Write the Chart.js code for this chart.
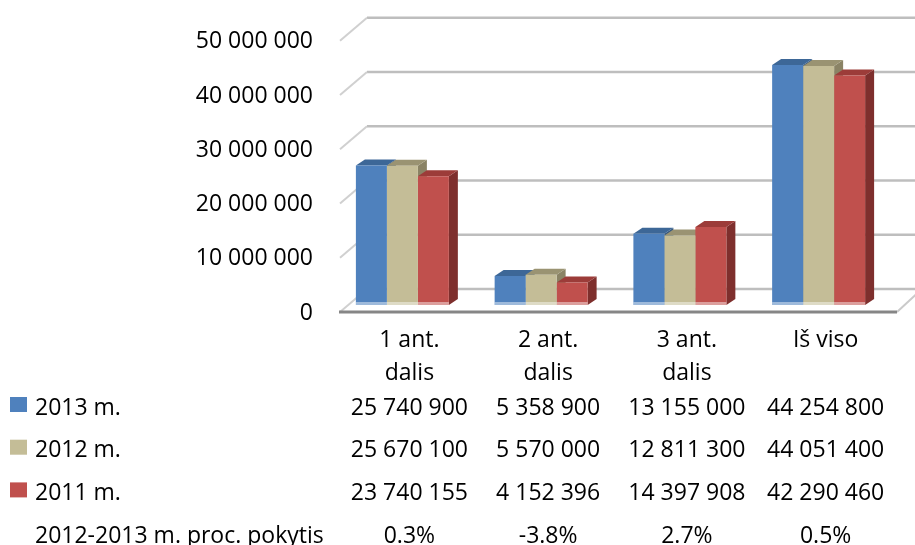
<!DOCTYPE html>
<html>
<head>
<meta charset="utf-8">
<script src="https://cdn.jsdelivr.net/npm/chart.js@4.4.1/dist/chart.umd.min.js"></script>
<style>
html,body{margin:0;padding:0;background:#fff;overflow:hidden}
#wrap{position:relative;width:915px;height:545px}
</style>
</head>
<body>
<div id="wrap"><canvas id="c" width="915" height="545"></canvas></div>
<script>
// ---- data ----
const categories = [['1 ant.', 'dalis'], ['2 ant.', 'dalis'], ['3 ant.', 'dalis'], ['Iš viso']];
const seriesNames = ['2013 m.', '2012 m.', '2011 m.'];
const values2013 = [25740900, 5358900, 13155000, 44254800];
const values2012 = [25670100, 5570000, 12811300, 44051400];
const values2011 = [23740155, 4152396, 14397908, 42290460];
const changeLabel = '2012-2013 m. proc. pokytis';
const changeValues = ['0.3%', '-3.8%', '2.7%', '0.5%'];
const yTickValues = [0, 10000000, 20000000, 30000000, 40000000, 50000000];

// ---- styling ----
const FONT = '"Open Sans", "Liberation Sans", sans-serif';
const FONT_SIZE = 23;
const colors = {
  front: ['#4F81BD', '#C4BD97', '#C0504D'],
  top:   ['#3D6797', '#9A9372', '#9C3C39'],
  side:  ['#35587F', '#8A8365', '#7E2F2D']
};
const BAR_DEPTH = { x: 9, y: -6 };
const FRONT = { x: 7, y: 7 };
const BACK = { x: 34, y: -16 };

function fmt(n) {
  return String(n).replace(/\B(?=(\d{3})+(?!\d))/g, ' ');
}

const seriesValues = [values2013, values2012, values2011];

const threeD = {
  id: 'threeD',
  beforeDatasetsDraw(chart) {
    const { ctx, chartArea: a, scales: { y } } = chart;
    ctx.save();
    ctx.lineCap = 'butt';
    yTickValues.forEach(v => {
      const py = y.getPixelForValue(v);
      ctx.strokeStyle = '#BEBEBE';
      ctx.lineWidth = 2.5;
      ctx.beginPath();
      ctx.moveTo(a.left + BACK.x, py + BACK.y);
      ctx.lineTo(a.right + BACK.x, py + BACK.y);
      ctx.stroke();
      ctx.strokeStyle = '#D0D0D0';
      ctx.lineWidth = 2;
      ctx.beginPath();
      ctx.moveTo(a.left + FRONT.x, py + FRONT.y);
      ctx.lineTo(a.left + BACK.x, py + BACK.y);
      ctx.stroke();
    });
    const p0 = y.getPixelForValue(0);
    ctx.strokeStyle = '#CACACA';
    ctx.lineWidth = 2;
    ctx.beginPath();
    ctx.moveTo(a.right + FRONT.x + 2, p0 + FRONT.y);
    ctx.lineTo(a.right + BACK.x, p0 + BACK.y);
    ctx.stroke();
    ctx.strokeStyle = '#868686';
    ctx.lineWidth = 3;
    ctx.beginPath();
    ctx.moveTo(a.left + FRONT.x - 1, p0 + FRONT.y);
    ctx.lineTo(a.right + FRONT.x + 2, p0 + FRONT.y);
    ctx.stroke();

    chart.data.datasets.forEach((ds, di) => {
      const meta = chart.getDatasetMeta(di);
      meta.data.forEach(bar => {
        const p = bar.getProps(['x', 'y', 'base', 'width'], true);
        const l = p.x - p.width / 2, r = p.x + p.width / 2;
        ctx.fillStyle = colors.side[di];
        ctx.beginPath();
        ctx.moveTo(r, p.y);
        ctx.lineTo(r + BAR_DEPTH.x, p.y + BAR_DEPTH.y);
        ctx.lineTo(r + BAR_DEPTH.x, p.base + BAR_DEPTH.y);
        ctx.lineTo(r, p.base);
        ctx.closePath();
        ctx.fill();
        ctx.fillStyle = colors.top[di];
        ctx.beginPath();
        ctx.moveTo(l, p.y);
        ctx.lineTo(l + BAR_DEPTH.x, p.y + BAR_DEPTH.y);
        ctx.lineTo(r + BAR_DEPTH.x, p.y + BAR_DEPTH.y);
        ctx.lineTo(r, p.y);
        ctx.closePath();
        ctx.fill();
      });
    });
    ctx.restore();
  },
  afterDatasetsDraw(chart) {
    const { ctx } = chart;
    ctx.save();
    ctx.fillStyle = 'rgba(255,255,255,0.45)';
    chart.data.datasets.forEach((ds, di) => {
      chart.getDatasetMeta(di).data.forEach(bar => {
        const p = bar.getProps(['x', 'base', 'width'], true);
        ctx.fillRect(p.x - p.width / 2, p.base - 3, p.width, 3);
      });
    });
    ctx.restore();
  },
  afterDraw(chart) {
    const { ctx, chartArea: a, scales: { x } } = chart;
    ctx.save();
    ctx.font = FONT_SIZE + 'px ' + FONT;
    ctx.textBaseline = 'middle';
    const xs = categories.map((_, i) => x.getPixelForValue(i) + FRONT.x);
    const rowY0 = a.bottom + 103;
    const pitch = 42.7;
    seriesNames.forEach((name, ri) => {
      const yy = rowY0 + ri * pitch;
      ctx.fillStyle = colors.front[ri];
      ctx.fillRect(10, yy - 11, 17, 15);
      ctx.fillStyle = '#000';
      ctx.textAlign = 'left';
      ctx.fillText(name, 35, yy);
      ctx.textAlign = 'center';
      seriesValues[ri].forEach((v, ci) => ctx.fillText(fmt(v), xs[ci], yy));
    });
    const yy = rowY0 + 3 * pitch;
    ctx.textAlign = 'left';
    ctx.fillText(changeLabel, 35, yy);
    ctx.textAlign = 'center';
    changeValues.forEach((t, ci) => ctx.fillText(t, xs[ci], yy));
    ctx.restore();
  }
};

new Chart(document.getElementById('c'), {
  type: 'bar',
  data: {
    labels: categories,
    datasets: seriesNames.map((name, i) => ({
      label: name,
      data: seriesValues[i],
      backgroundColor: colors.front[i],
      borderWidth: 0,
      categoryPercentage: 0.67,
      barPercentage: 1.0
    }))
  },
  options: {
    responsive: false,
    animation: false,
    events: [],
    layout: { padding: { left: 0, right: 27, top: 33, bottom: 150 } },
    plugins: { legend: { display: false }, tooltip: { enabled: false } },
    scales: {
      x: {
        grid: { display: false, drawTicks: false },
        border: { display: false },
        ticks: {
          color: '#000',
          font: { family: FONT, size: FONT_SIZE, lineHeight: 33 / 23 },
          padding: 18.5,
          labelOffset: FRONT.x,
          maxRotation: 0,
          autoSkip: false
        },
        afterFit(s) { s.height = 90; }
      },
      y: {
        min: 0,
        max: 50000000,
        grid: { display: false, drawTicks: false },
        border: { display: false },
        afterBuildTicks(s) { s.ticks = yTickValues.map(v => ({ value: v })); },
        ticks: {
          color: '#000',
          font: { family: FONT, size: FONT_SIZE },
          padding: 20,
          labelOffset: 8,
          callback: v => fmt(v)
        },
        afterFit(s) { s.width = 333; }
      }
    }
  },
  plugins: [threeD]
});
</script>
</body>
</html>
